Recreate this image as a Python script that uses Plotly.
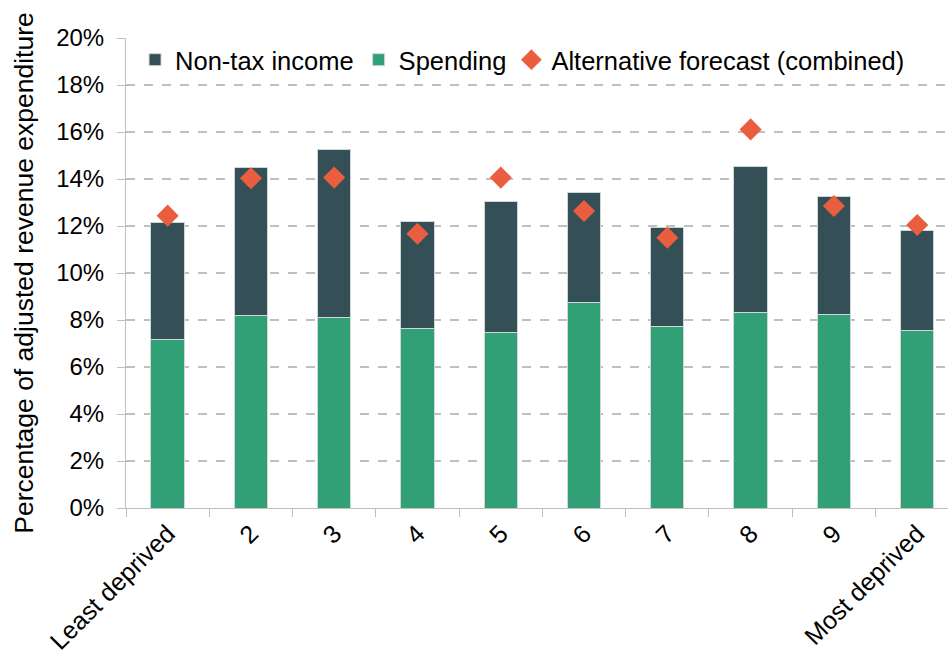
import plotly.graph_objects as go

# deprivation deciles
categories = ["Least deprived", "2", "3", "4", "5", "6", "7", "8", "9", "Most deprived"]

# percent of adjusted revenue expenditure
spending = [7.19, 8.21, 8.09, 7.65, 7.45, 8.75, 7.72, 8.33, 8.24, 7.57]
total = [12.15, 14.48, 15.26, 12.18, 13.06, 13.43, 11.93, 14.52, 13.25, 11.79]
non_tax_income = [round(t - s, 2) for t, s in zip(total, spending)]
alternative_forecast = [12.44, 14.03, 14.06, 11.67, 14.06, 12.64, 11.50, 16.11, 12.85, 12.04]

y_ticks = list(range(0, 21, 2))
y_tick_labels = [f"{v}%" for v in y_ticks]

DARK = "#344F55"
GREEN = "#31A077"
ORANGE = "#EA5E40"
GRID = "#BFBFBF"

fig = go.Figure()
fig.add_trace(go.Bar(
    x=categories, y=spending, name="Spending",
    marker=dict(color=GREEN, line=dict(color="#D0D7D8", width=1)),
    width=0.4, legendrank=2,
))
fig.add_trace(go.Bar(
    x=categories, y=non_tax_income, name="Non-tax income",
    marker=dict(color=DARK, line=dict(color="#D0D7D8", width=1)),
    width=0.4, legendrank=1,
))
fig.add_trace(go.Scatter(
    x=categories, y=alternative_forecast, name="Alternative forecast (combined)",
    mode="markers",
    marker=dict(symbol="diamond", size=17, color=ORANGE),
    legendrank=3,
))

fig.update_layout(
    barmode="stack",
    width=948,
    height=664,
    margin=dict(l=126, r=0, t=38, b=156),
    paper_bgcolor="white",
    plot_bgcolor="white",
    font=dict(family="Liberation Sans, Arial, sans-serif", size=24, color="#000000"),
    legend=dict(
        orientation="h",
        traceorder="normal",
        x=0.011, xanchor="left",
        y=0.953, yanchor="middle",
        font=dict(size=25.5),
        itemwidth=30,
        bgcolor="rgba(0,0,0,0)",
    ),
    xaxis=dict(
        type="category",
        categoryorder="array",
        categoryarray=categories,
        range=[-0.5, 9.37],
        tickangle=-45,
        tickson="boundaries",
        ticks="outside",
        ticklen=8,
        tickcolor=GRID,
        showline=True,
        linecolor=GRID,
        linewidth=1,
        showgrid=False,
        tickfont=dict(size=25),
    ),
    yaxis=dict(
        range=[0, 20],
        tickvals=y_ticks,
        ticktext=y_tick_labels,
        ticks="outside",
        ticklen=8,
        tickcolor=GRID,
        ticklabelstandoff=8,
        showline=True,
        linecolor=GRID,
        linewidth=1,
        showgrid=True,
        gridcolor=GRID,
        griddash="dash",
        gridwidth=1.5,
        zeroline=False,
        tickfont=dict(size=24),
        title=dict(text="Percentage of adjusted revenue expenditure", font=dict(size=26.5), standoff=14),
    ),
)

fig.write_html(
    "out.html",
    config={"displayModeBar": False},
    post_script="document.body.style.margin='0';",
)
